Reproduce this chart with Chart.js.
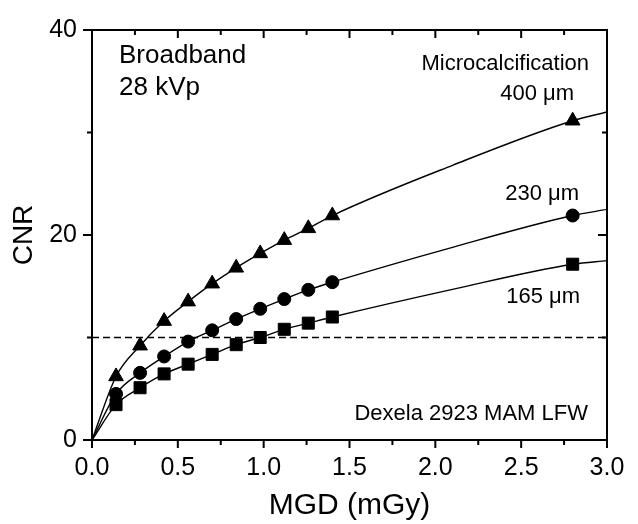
<!DOCTYPE html>
<html>
<head>
<meta charset="utf-8">
<script src="https://cdn.jsdelivr.net/npm/chart.js@4/dist/chart.umd.min.js"></script>
<style>
  html, body { margin: 0; padding: 0; background: #fff; }
  #wrap { width: 638px; height: 524px; }
</style>
</head>
<body>
<div id="wrap"><canvas id="cnrChart" width="638" height="524"></canvas></div>
<script>
// MGD values (mGy)
const mgd = [0.14, 0.28, 0.42, 0.56, 0.70, 0.84, 0.98, 1.12, 1.26, 1.40, 2.80];
// CNR per microcalcification size
const cnr400 = [6.2, 9.2, 11.6, 13.5, 15.25, 16.8, 18.2, 19.5, 20.65, 21.9, 31.15];
const cnr230 = [4.5, 6.55, 8.15, 9.6, 10.7, 11.8, 12.8, 13.75, 14.65, 15.4, 21.9];
const cnr165 = [3.45, 5.1, 6.45, 7.4, 8.35, 9.3, 10.0, 10.8, 11.4, 12.0, 17.15];
const fitMid = { x: 2.1, c400: 26.8, c230: 18.8, c165: 14.7 };
const fitEnd = { x: 3.0, c400: 32.0, c230: 22.5, c165: 17.5 };
const threshold = 10;

const xTicks = [0, 0.5, 1.0, 1.5, 2.0, 2.5, 3.0];
const xMinor = [0.25, 0.75, 1.25, 1.75, 2.25, 2.75];
const yTicks = [0, 20, 40];
const yMinor = [10, 30];

const FONT = '"Liberation Sans", Arial, Helvetica, sans-serif';

const pts = ys => mgd.map((x, i) => ({ x: x, y: ys[i] }));
const fit = (ys, key) => {
    const p = pts(ys);
    const last = p.pop();
    return [{ x: 0, y: 0 }, ...p, { x: fitMid.x, y: fitMid[key] }, last, { x: fitEnd.x, y: fitEnd[key] }];
};

const markerSet = (ys, style, r) => ({
    data: pts(ys),
    showLine: false,
    pointStyle: style,
    pointRadius: r,
    backgroundColor: '#000',
    borderColor: '#000',
    borderWidth: 1
});
const fitSet = (ys, key) => ({
    data: fit(ys, key),
    showLine: true,
    borderColor: '#000',
    borderWidth: 1.4,
    pointRadius: 0,
    cubicInterpolationMode: 'monotone'
});

// frame, ticks (outside on bottom/left, inside on top/right) and labels
const framePlugin = {
    id: 'frame',
    afterDatasetsDraw(chart) {
        const { ctx, chartArea: a, scales: { x, y } } = chart;
        ctx.save();
        ctx.strokeStyle = '#000';
        ctx.lineWidth = 2;
        ctx.strokeRect(a.left, a.top, a.right - a.left, a.bottom - a.top);

        const tick = (list, len) => {
            list.forEach(v => {
                const px = x.getPixelForValue(v);
                ctx.beginPath();
                ctx.moveTo(px, a.bottom); ctx.lineTo(px, a.bottom + len);
                ctx.moveTo(px, a.top); ctx.lineTo(px, a.top + len);
                ctx.stroke();
            });
        };
        const ytick = (list, len) => {
            list.forEach(v => {
                const py = y.getPixelForValue(v);
                ctx.beginPath();
                ctx.moveTo(a.left, py); ctx.lineTo(a.left - len, py);
                ctx.moveTo(a.right, py); ctx.lineTo(a.right - len, py);
                ctx.stroke();
            });
        };
        tick(xTicks, 8); tick(xMinor, 5);
        ytick(yTicks, 9); ytick(yMinor, 5);

        // annotations
        ctx.fillStyle = '#000';
        ctx.textBaseline = 'alphabetic';
        ctx.textAlign = 'left';
        ctx.font = '26px ' + FONT;
        ctx.fillText('Broadband', 119, 63);
        ctx.fillText('28 kVp', 119, 95);
        ctx.textAlign = 'right';
        ctx.font = '22px ' + FONT;
        ctx.fillText('Microcalcification', 589, 70);
        ctx.fillText('400 \u03bcm', 574, 100);
        ctx.fillText('230 \u03bcm', 579, 200);
        ctx.fillText('165 \u03bcm', 580, 303);
        ctx.fillText('Dexela 2923 MAM LFW', 588, 420);
        ctx.restore();
    }
};

new Chart(document.getElementById('cnrChart'), {
    type: 'scatter',
    data: {
        datasets: [
            {
                data: [{ x: 0, y: threshold }, { x: 3.0, y: threshold }],
                showLine: true,
                borderColor: '#000',
                borderWidth: 1.5,
                borderDash: [7, 4],
                pointRadius: 0
            },
            fitSet(cnr400, 'c400'),
            fitSet(cnr230, 'c230'),
            fitSet(cnr165, 'c165'),
            markerSet(cnr400, 'triangle', 8.5),
            markerSet(cnr230, 'circle', 6.5),
            markerSet(cnr165, 'rect', 8.5)
        ]
    },
    options: {
        responsive: false,
        animation: false,
        devicePixelRatio: 1,
        layout: { padding: { left: 0, top: 23, right: 31, bottom: 0 } },
        plugins: { legend: { display: false }, tooltip: { enabled: false } },
        scales: {
            x: {
                type: 'linear',
                min: 0, max: 3.0,
                afterBuildTicks: s => { s.ticks = xTicks.map(v => ({ value: v })); },
                afterFit: s => { s.height = 84; },
                grid: { display: false, drawTicks: false },
                border: { display: false },
                ticks: {
                    padding: 13,
                    color: '#000',
                    maxRotation: 0,
                    autoSkip: false,
                    font: { family: FONT, size: 25 },
                    callback: v => v.toFixed(1)
                },
                title: {
                    display: true,
                    text: 'MGD (mGy)',
                    color: '#000',
                    padding: { top: 0, bottom: 0 },
                    font: { family: FONT, size: 30 }
                }
            },
            y: {
                type: 'linear',
                min: 0, max: 40,
                afterBuildTicks: s => { s.ticks = yTicks.map(v => ({ value: v })); },
                afterFit: s => { s.width = 92; },
                grid: { display: false, drawTicks: false },
                border: { display: false },
                ticks: {
                    padding: 15,
                    color: '#000',
                    font: { family: FONT, size: 25 }
                },
                title: {
                    display: true,
                    text: 'CNR',
                    color: '#000',
                    padding: { top: 7, bottom: 0 },
                    font: { family: FONT, size: 28 }
                }
            }
        }
    },
    plugins: [framePlugin]
});
</script>
</body>
</html>
